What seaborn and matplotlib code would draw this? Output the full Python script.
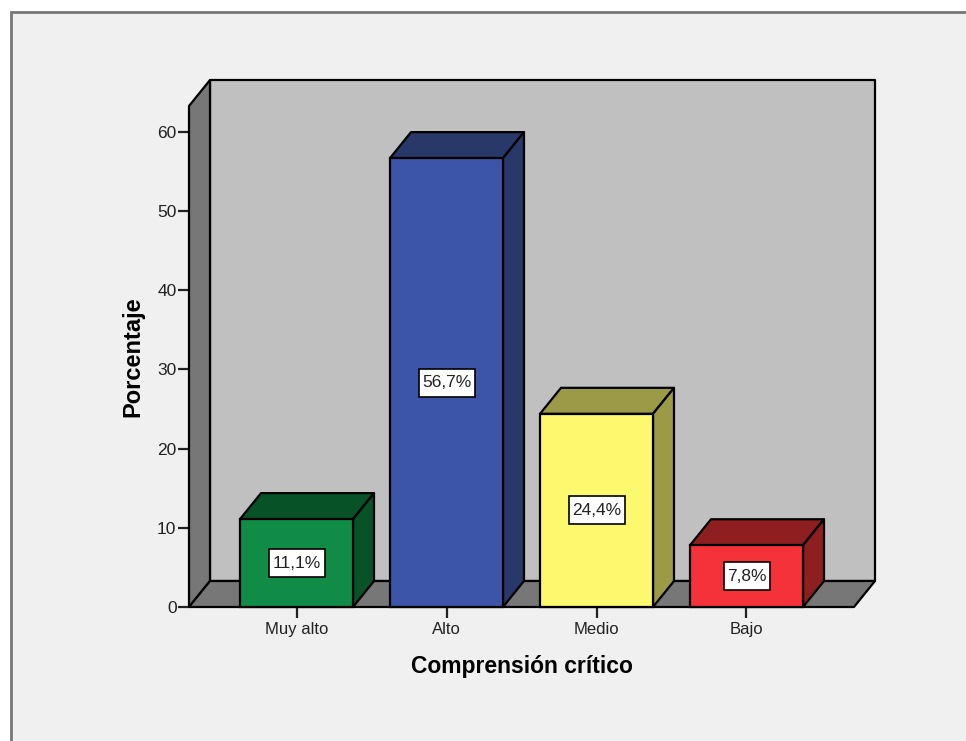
import numpy as np
import pandas as pd
import matplotlib
matplotlib.use("Agg")
import matplotlib.pyplot as plt
from matplotlib.patches import Polygon, Rectangle
import seaborn as sns

categories = ["Muy alto", "Alto", "Medio", "Bajo"]
porcentajes = [11.1, 56.7, 24.4, 7.8]
etiquetas = ["11,1%", "56,7%", "24,4%", "7,8%"]
colores = ["#108c46", "#3c55a8", "#fdf96f", "#f53239"]
colores_oscuros = ["#075227", "#283869", "#9c9a47", "#8f1e20"]
y_ticks = [0, 10, 20, 30, 40, 50, 60]

W, H = 966, 741
sns.set_theme(style="white")
plt.rcParams["font.family"] = ["Liberation Sans", "DejaVu Sans"]

fig = plt.figure(figsize=(W / 100, H / 100), dpi=100, facecolor="white")

# panel gris de fondo (estilo SPSS)
fig.add_artist(Rectangle((11 / W, -0.01), 1.0, 1 - 12 / H + 0.01, transform=fig.transFigure,
                         facecolor="#f0f0f0", edgecolor="#777777", linewidth=2, zorder=-1))

px_x = 150.0    # pixeles por categoria
px_y = 475 / 60  # pixeles por unidad de porcentaje
ax = fig.add_axes([189 / W, (H - 607) / H, 665 / W, 501 / H])
ax.set_facecolor("none")

df = pd.DataFrame({"cat": categories, "pct": porcentajes})
sns.barplot(data=df, x="cat", y="pct", hue="cat", order=categories, hue_order=categories,
            palette=colores, width=113 / px_x, edgecolor="black", linewidth=1.6,
            saturation=1, legend=False, ax=ax, zorder=5)

x_min, x_max = (189 - 296.5) / px_x, (854 - 296.5) / px_x
y_max = 501 / px_y
ax.set_xlim(x_min, x_max)
ax.set_ylim(0, y_max)

# profundidad del grafico 3D
dx = 21 / px_x
dy = 26 / px_y


def cara(puntos, color, z):
    ax.add_patch(Polygon(puntos, closed=True, facecolor=color, edgecolor="black",
                         linewidth=1.6, joinstyle="round", clip_on=False, zorder=z))


cara([(x_min + dx, dy), (x_max + dx, dy), (x_max + dx, y_max + dy), (x_min + dx, y_max + dy)], "#c0c0c0", 1)
cara([(x_min, 0), (x_min + dx, dy), (x_min + dx, y_max + dy), (x_min, y_max)], "#777777", 2)
cara([(x_min, 0), (x_max, 0), (x_max + dx, dy), (x_min + dx, dy)], "#777777", 2)

for bar, oscuro, etiqueta in zip(ax.patches[:4], colores_oscuros, etiquetas):
    bar.set_clip_on(False)
    x0, x1, h = bar.get_x(), bar.get_x() + bar.get_width(), bar.get_height()
    cara([(x0, h), (x1, h), (x1 + dx, h + dy), (x0 + dx, h + dy)], oscuro, 4)
    cara([(x1, 0), (x1 + dx, dy), (x1 + dx, h + dy), (x1, h)], oscuro, 4)
    # caja blanca de la etiqueta, mas alta que ancha respecto al texto
    ancho = (56 if len(etiqueta) == 5 else 46) / px_x
    alto = 28 / px_y
    xc = (x0 + x1) / 2
    ax.add_patch(Rectangle((xc - ancho / 2, h / 2 - alto / 2), ancho, alto, facecolor="white",
                           edgecolor="black", linewidth=1.2, zorder=6))
    ax.text(xc, h / 2, etiqueta, ha="center", va="center", fontsize=12.5, color="#222222", zorder=7)

for lado in ["top", "right", "left", "bottom"]:
    ax.spines[lado].set_visible(False)

ax.set_yticks(y_ticks)
ax.tick_params(axis="both", which="both", left=True, bottom=True, length=8, width=1.6, color="#222222",
               labelsize=12, labelcolor="#222222")
ax.tick_params(axis="x", pad=3)
ax.tick_params(axis="y", labelsize=12.5, pad=1)
ax.set_xlabel("Comprensión crítico", fontsize=16.5, fontweight="bold", color="black")
ax.set_ylabel("Porcentaje", fontsize=17, fontweight="bold", color="black")
ax.xaxis.set_label_coords((522 - 189) / 665, -(666 - 607) / 501, transform=ax.transAxes)
ax.xaxis.label.set_va("center")
ax.yaxis.set_label_coords((133 - 189) / 665, (607 - 356.5) / 501, transform=ax.transAxes)
ax.yaxis.label.set_va("center")

fig.savefig("out.png", dpi=100)
